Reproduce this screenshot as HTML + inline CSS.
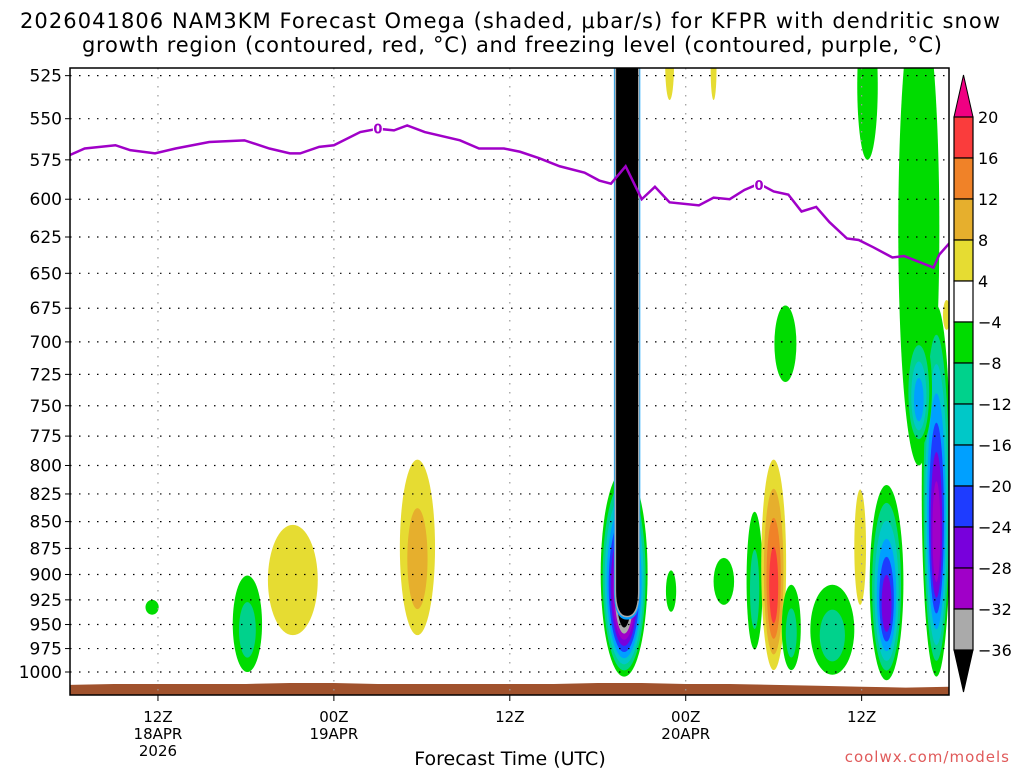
<!DOCTYPE html>
<html><head><meta charset="utf-8"><style>
html,body{margin:0;padding:0;background:#fff;}
svg{display:block;font-family:"DejaVu Sans","Liberation Sans",sans-serif;}
</style></head><body>
<svg id="chart" width="1024" height="768" viewBox="0 0 1024 768" xmlns="http://www.w3.org/2000/svg">
<defs><clipPath id="plotclip"><rect x="70" y="68" width="879" height="627"/></clipPath></defs>
<text x="510" y="28" text-anchor="middle" font-size="21" textLength="980" lengthAdjust="spacing">2026041806 NAM3KM Forecast Omega (shaded, μbar/s) for KFPR with dendritic snow</text>
<text x="512" y="52" text-anchor="middle" font-size="21" textLength="860" lengthAdjust="spacing">growth region (contoured, red, °C) and freezing level (contoured, purple, °C)</text>
<g id="plot" clip-path="url(#plotclip)"></g>
<g id="axes"></g>
<g id="cbar"></g>
<text x="510" y="765" text-anchor="middle" font-size="19">Forecast Time (UTC)</text>
<text x="1010" y="762" text-anchor="end" font-size="15" fill="#e05a5a" letter-spacing="1">coolwx.com/models</text>
</svg>
<script>
// ---- data ----
const pressureTicks=[525,550,575,600,625,650,675,700,725,750,775,800,825,850,875,900,925,950,975,1000];
const timeTickHours=[6,18,30,42,54];
const timeTickLabels=[["12Z","18APR","2026"],["00Z","19APR"],["12Z"],["00Z","20APR"],["12Z"]];
const frzHours=[0,1,3.1,4.1,5.8,7.2,9.5,11.9,13.6,15,15.7,17,18,19.8,21,22.1,23,24.2,26.6,27.9,29.6,30.7,32,33.4,35.1,36.1,36.9,37.9,39,39.9,40.9,42.9,43.9,45,46,47,48,49,49.9,50.9,51.8,53,53.8,54.8,56.1,56.9,57.9,58.9,59.3,60];
const frzPressure=[572,568,566,569,571,568,564,563,568,571,571,567,566,558,556,557,554,558,563,568,568,570,574,579,583,588,590,579,600,592,602,604,599,600,594,590,595,597,608,605,615,626,627,632,639,638,642,646,637,629];
const frzLabelHours=[21,47];
const frzLabelPressure=[556,591];
const blobHour=[5.6,12.1,15.2,23.7,37.8,40.9,43.9,41,44.6,46.7,48,49.2,52,53.9,55.7,54.4,57.9,59.1,48.8,59.8,57.9];
const blobHalfHours=[0.45,1.0,1.7,1.2,1.6,0.3,0.2,0.35,0.7,0.55,0.85,0.65,1.5,0.4,1.15,0.7,1.4,1.0,0.75,0.25,0.9];
const blobTopP=[925,901,853,795,804,500,505,896,884,841,795,910,910,821,817,490,480,673,673,669,690];
const blobBotP=[940,1000,961,961,1005,539,539,937,930,976,998,998,1003,930,1009,575,800,1005,731,691,785];
const blobPeak=[-5,-10,6,9,-40,5,5,-5,-5,-10,18,-11,-11,6,-25,-5,-5,-30,-5,5,-17];
const coreHour=38, coreHalfHours=0.9, coreBottomP=945, coreTopP=500;
const surfaceHours=[0,3,6,9,12,15,18,21,24,27,30,33,36,39,42,45,48,51,54,57,60];
const surfaceP=[1014,1013,1013,1013,1013,1012,1012,1013,1013,1013,1013,1013,1012,1012,1013,1013,1014,1015,1016,1017,1016];
const cbarLevels=[20,16,12,8,4,-4,-8,-12,-16,-20,-24,-28,-32,-36];
// ---- scales ----
const X0=70,X1=949,Y0=68,Y1=695;
const xs=h=>70+h*14.66;
const ys=p=>672-925.5*Math.log(1000/p);
const posColors=["#e6dc32","#e6af2d","#f08228","#fa3c3c","#f00082"];
const negColors=["#00dc00","#00d28c","#00c8c8","#00a0ff","#1e3cff","#7800dc","#a000c8","#aaaaaa","#000000"];
const NS="http://www.w3.org/2000/svg";
function mk(tag,attrs,parent){const e=document.createElementNS(NS,tag);for(const k in attrs)e.setAttribute(k,attrs[k]);parent.appendChild(e);return e;}
const plot=document.getElementById('plot'),axes=document.getElementById('axes'),cbar=document.getElementById('cbar');
// blobs
blobHour.forEach((h,i)=>{
  const pk=blobPeak[i];const n=Math.max(1,Math.floor((Math.abs(pk)-4)/4)+1);
  const cx=xs(h),yt=ys(blobTopP[i]),yb=ys(blobBotP[i]);const cy=(yt+yb)/2,ry=(yb-yt)/2,rx=xs(h+blobHalfHours[i])-cx;
  for(let k=0;k<n;k++){
    const s=1-k/n*0.85;const col=pk>0?posColors[Math.min(k,4)]:negColors[Math.min(k,8)];
    const e=mk('ellipse',{cx:cx,cy:cy+ry*(1-s)*0.3,rx:rx*s,ry:ry*s,fill:col},plot);
    
    
  }
});
// core column
(function(){const l=xs(coreHour-coreHalfHours),r=xs(coreHour+coreHalfHours),yt=ys(coreTopP),yb=ys(coreBottomP);const rr=(r-l)/2;const ym=yb-rr*2.2;
 const d=`M${l},${yt} L${l},${ym} Q${l},${yb} ${(l+r)/2},${yb} Q${r},${yb} ${r},${ym} L${r},${yt} Z`;
 mk('path',{d:d,fill:'#00a0ff'},plot);
 const c=mk('path',{d:`M${l+1.5},${yt} L${l+1.5},${ym} Q${l+1.5},${yb-3} ${(l+r)/2},${yb-3} Q${r-1.5},${yb-3} ${r-1.5},${ym} L${r-1.5},${yt} Z`,fill:'#000',stroke:'#aaaaaa','stroke-width':1.5},plot);
 
 
})();
// surface
(function(){let d=`M${xs(surfaceHours[0])},${Y1}`;surfaceHours.forEach((h,i)=>{d+=` L${xs(h)},${ys(surfaceP[i])}`;});d+=` L${xs(60)},${Y1} Z`;
 const s=mk('path',{d:d,fill:'#a0522d'},plot);})();
// grid
pressureTicks.forEach(p=>{mk('line',{x1:X0,x2:X1,y1:ys(p),y2:ys(p),stroke:'#000','stroke-width':1.2,'stroke-dasharray':'1.5 7.5'},plot);});
timeTickHours.forEach(h=>{mk('line',{x1:xs(h),x2:xs(h),y1:Y0,y2:Y1,stroke:'#999','stroke-width':1.2,'stroke-dasharray':'1.5 7.5'},plot);});
// freezing line
(function(){const pts=frzHours.map((h,i)=>xs(h)+','+ys(frzPressure[i])).join(' ');
 const l=mk('polyline',{points:pts,fill:'none',stroke:'#a000c8','stroke-width':2.5},plot);
 frzLabelHours.forEach((h,i)=>{mk('rect',{x:xs(h)-5,y:ys(frzLabelPressure[i])-6,width:10,height:12,fill:'#fff'},plot);
  const t=mk('text',{x:xs(h),y:ys(frzLabelPressure[i])+5,'text-anchor':'middle','font-size':13,fill:'#a000c8','font-weight':'bold'},plot);t.textContent='0';
  });})();
// frame and axes
mk('rect',{x:X0,y:Y0,width:X1-X0,height:Y1-Y0,fill:'none',stroke:'#000','stroke-width':1.5},axes);
pressureTicks.forEach(p=>{mk('line',{x1:X0-5,x2:X0,y1:ys(p),y2:ys(p),stroke:'#000'},axes);
 const t=mk('text',{x:X0-8,y:ys(p)+6,'text-anchor':'end','font-size':17},axes);t.textContent=p;
 });
timeTickHours.forEach((h,i)=>{mk('line',{x1:xs(h),x2:xs(h),y1:Y1,y2:Y1+6,stroke:'#000'},axes);
 timeTickLabels[i].forEach((s,j)=>{const t=mk('text',{x:xs(h),y:722+j*17,'text-anchor':'middle','font-size':15},axes);t.textContent=s;
 });});
// colorbar
(function(){const bx=954,bw=19,top=117,bot=650;const all=[posColors[3],posColors[2],posColors[1],posColors[0],'#ffffff'].concat(negColors.slice(0,8));
 const step=(bot-top)/all.length;
 mk('path',{d:`M${bx},${top} L${bx+bw/2},${top-42} L${bx+bw},${top} Z`,fill:posColors[4],stroke:'#000'},cbar);
 all.forEach((c,i)=>{mk('rect',{x:bx,y:top+i*step,width:bw,height:step,fill:c,stroke:'#000','stroke-width':1.2},cbar);});
 mk('path',{d:`M${bx},${bot} L${bx+bw/2},${bot+42} L${bx+bw},${bot} Z`,fill:'#000',stroke:'#000'},cbar);
 cbarLevels.forEach((v,i)=>{const t=mk('text',{x:978,y:top+i*step+6,'font-size':16},cbar);t.textContent=v<0?'−'+(-v):v;
 });})();
</script>
</body></html>
